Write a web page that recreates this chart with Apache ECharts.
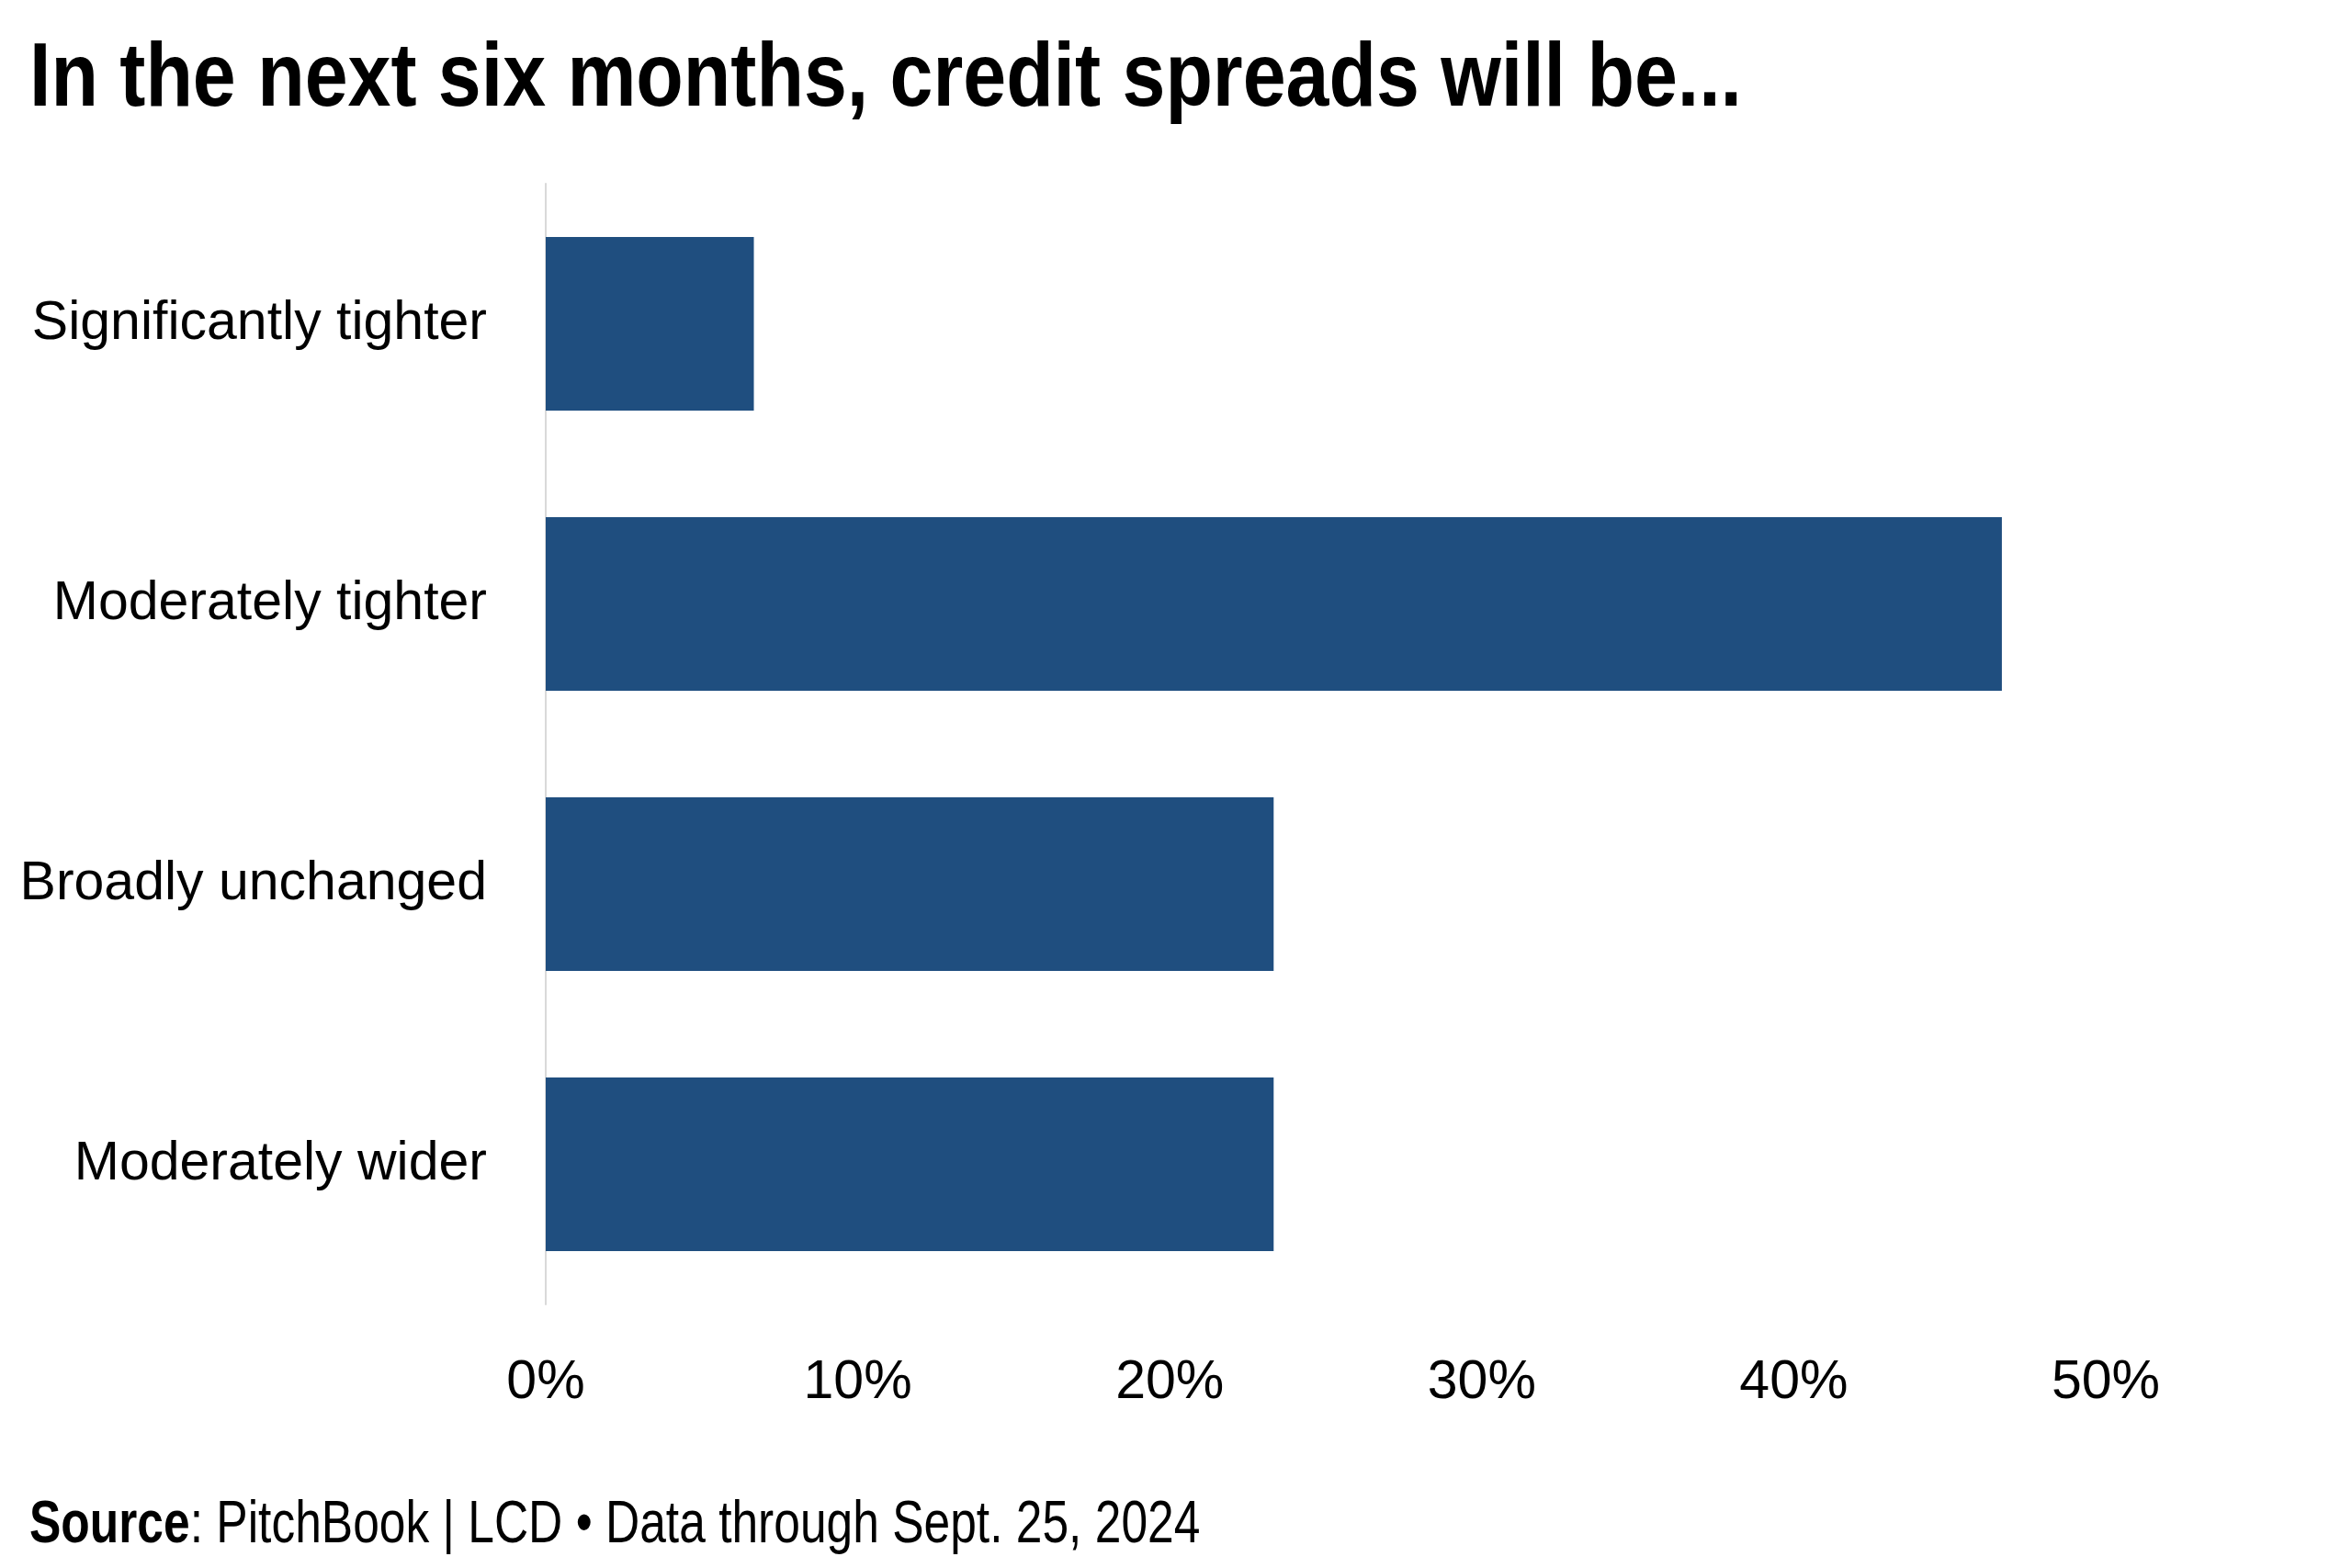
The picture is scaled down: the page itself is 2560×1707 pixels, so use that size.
<!DOCTYPE html>
<html>
<head>
<meta charset="utf-8">
<script src="https://cdn.jsdelivr.net/npm/echarts@6/dist/echarts.min.js"></script>
<style>
  html, body { margin: 0; padding: 0; background: #fff; }
  #chart { width: 2560px; height: 1707px; }
</style>
</head>
<body>
<div id="chart"></div>
<script>
// survey answers, share of respondents (%)
const categories = ['Significantly tighter', 'Moderately tighter', 'Broadly unchanged', 'Moderately wider'];
const shares = [6.67, 46.67, 23.33, 23.33];
const xTicks = [0, 10, 20, 30, 40, 50];

// no narrow face installed, so long texts get squeezed with scaleX
const FONT = "'Liberation Sans', Arial, sans-serif";

const chart = echarts.init(document.getElementById('chart'), null, { renderer: 'canvas' });

chart.setOption({
  backgroundColor: '#ffffff',
  animation: false,
  grid: { left: 594, right: 268, top: 200, bottom: 287, containLabel: false, outerBoundsMode: 'none' },
  xAxis: {
    type: 'value',
    min: xTicks[0],
    max: xTicks[xTicks.length - 1],
    interval: 10,
    axisLine: { show: false },
    axisTick: { show: false },
    splitLine: { show: false },
    axisLabel: {
      margin: 56,
      fontFamily: FONT,
      fontSize: 59,
      color: '#000',
      formatter: v => v + '%'
    }
  },
  yAxis: {
    type: 'category',
    inverse: true,
    data: categories,
    axisLine: { show: true, lineStyle: { color: '#d9d9d9', width: 2 } },
    axisTick: { show: false },
    axisLabel: { margin: 64, fontFamily: FONT, fontSize: 59, color: '#000' }
  },
  series: [{
    type: 'bar',
    data: shares,
    barCategoryGap: '38%',
    itemStyle: { color: '#1f4e7f' }
  }],
  graphic: [{
    type: 'text',
    left: 32,
    top: 39,
    scaleX: 0.86,
    style: {
      text: 'In the next six months, credit spreads will be...',
      font: 'bold 98px ' + FONT,
      fill: '#000'
    }
  }, {
    type: 'text',
    left: 32,
    top: 1629,
    scaleX: 0.805,
    style: {
      text: '{b|Source}: PitchBook | LCD • Data through Sept. 25, 2024',
      font: '64px ' + FONT,
      fill: '#000',
      rich: {
        b: { fontFamily: FONT, fontWeight: 'bold', fontSize: 64, fill: '#000' }
      }
    }
  }]
});
</script>
</body>
</html>
